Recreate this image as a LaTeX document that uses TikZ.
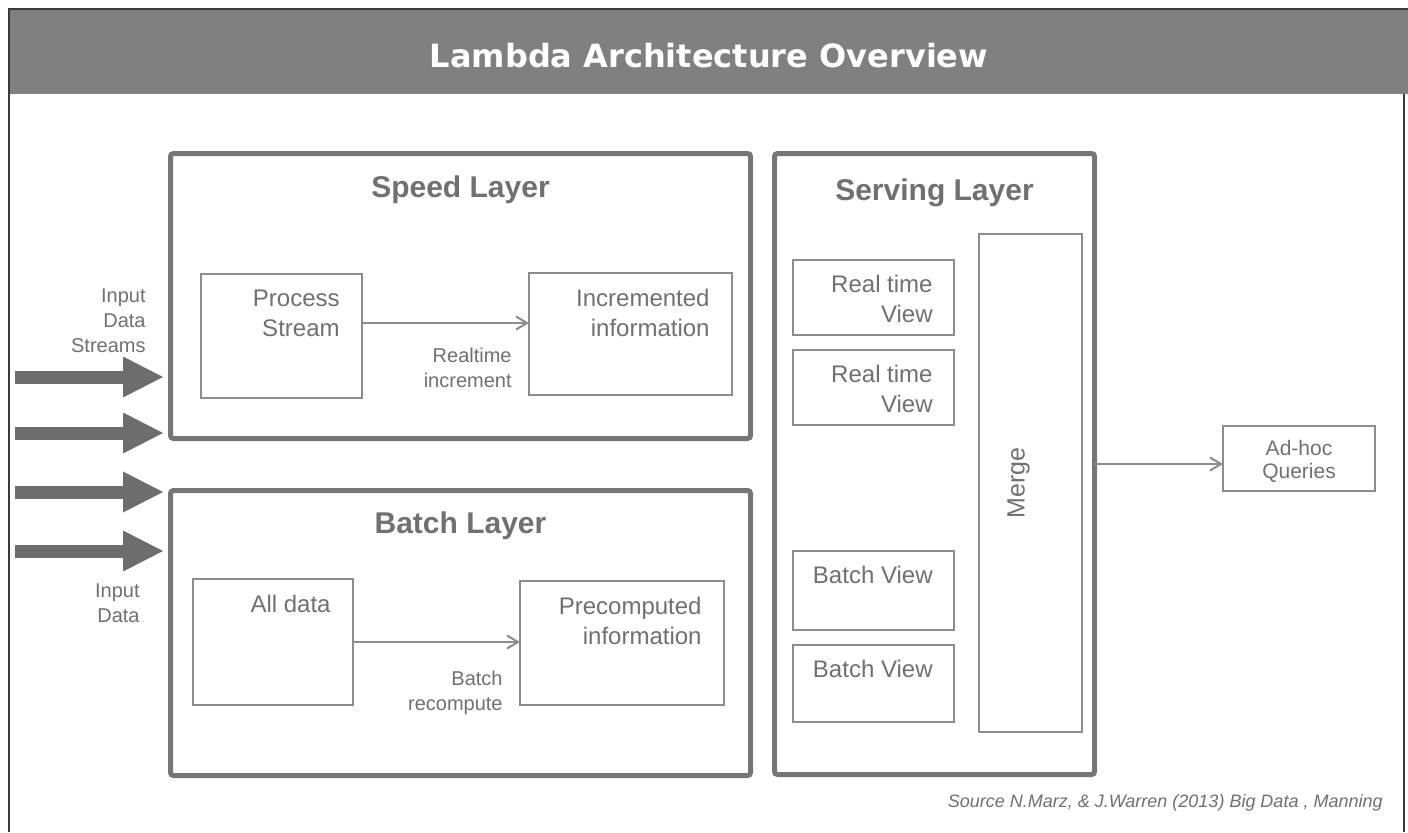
\documentclass[tikz,border=0pt]{standalone}
\usepackage{fontspec}
\setmainfont{Liberation Sans}
\newfontfamily\titlefont{DejaVu Sans}
\usepackage{xcolor}
\usetikzlibrary{calc}
\usetikzlibrary{arrows.meta}
\usetikzlibrary{positioning}

\definecolor{bargray}{HTML}{808080}
\definecolor{layergray}{HTML}{767676}
\definecolor{boxgray}{HTML}{8C8C8C}
\definecolor{txtgray}{HTML}{707070}
\definecolor{feedgray}{HTML}{6D6D6D}
\definecolor{framegray}{HTML}{3A3A3A}

\tikzset{
	layer/.style={draw=layergray, line width=2.5pt, rounded corners=1.5pt, inner sep=0pt, outer sep=0pt, anchor=north west},
	item/.style={draw=boxgray, line width=1pt, inner sep=0pt, outer sep=0pt, anchor=north west},
	itemtext/.style={anchor=north east, align=right, inner sep=0pt, text=txtgray, font=\fontsize{12}{15}\selectfont},
	note/.style={align=right, inner sep=0pt, text=txtgray, font=\fontsize{10}{12.5}\selectfont},
	layertitle/.style={anchor=base, inner sep=0pt, text=txtgray, font=\bfseries\fontsize{15}{18}\selectfont},
	flow/.style={draw=boxgray, line width=1pt, -{Straight Barb[length=5.5pt,width=6.5pt]}},
	feed/.style={draw=feedgray, line width=6.5pt, -{Triangle[length=20pt,width=20.5pt,line width=0pt]}}
}

\begin{document}
\begin{tikzpicture}[x=0.5pt,y=-0.5pt] % one unit is one pixel, y runs down
	\useasboundingbox (0,0) rectangle (1408,832);
	\fill[white] (0,0) rectangle (1408,832);	% background
	
	% slide frame and title bar
	\fill[bargray] (10,10) rectangle (1408,94);
	\draw[framegray, line width=1pt] (9,832) -- (9,9) -- (1408,9);
	\draw[framegray, line width=1pt] (1404,94) -- (1404,832);
	\node[anchor=base, inner sep=0pt, text=white, font=\titlefont\bfseries\fontsize{16}{19}\selectfont] (ttl) at (709,67) {Lambda Architecture Overview};
	
	% layers
	\node[layer, minimum width=290pt, minimum height=142.5pt] (spd) at (170.5,153.5) {};
	\node[layer, minimum width=290pt, minimum height=142.5pt] (bat) at (170.5,490.5) {};
	\node[layer, minimum width=160pt, minimum height=310.5pt] (srv) at (774.5,153.5) {};
	\node[layertitle] (spdtitle) at ([yshift=-21.75pt]spd.north) {Speed Layer};
	\node[layertitle] (battitle) at ([yshift=-21.25pt]bat.north) {Batch Layer};
	\node[layertitle] (srvtitle) at ([yshift=-23.25pt]srv.north) {Serving Layer};
	
	% speed layer
	\node[item, minimum width=80.5pt, minimum height=62pt] (ps) at (201,274) {};
	\node[item, minimum width=101.5pt, minimum height=61pt] (inc) at (529,273) {};
	\node[itemtext] (pstext) at ([shift={(-22,16)}]ps.north east) {Process\\Stream};
	\node[itemtext] (inctext) at ([shift={(-22,16)}]inc.north east) {Incremented\\information};
	\draw[flow] ([yshift=6.5pt]ps.east) -- ([yshift=6.5pt]ps.east -| inc.west);
	\node[note, below left=7pt and 8.5pt of inc.west] (inclbl) {Realtime\\increment};
	
	% batch layer
	\node[item, minimum width=80pt, minimum height=63pt] (ad) at (193,579) {};
	\node[item, minimum width=102pt, minimum height=62pt] (pre) at (520,581) {};
	\node[itemtext] (adtext) at ([shift={(-22,16)}]ad.north east) {All data};
	\node[itemtext] (pretext) at ([shift={(-22,16)}]pre.north east) {Precomputed\\information};
	\draw[flow] (ad.east) -- (ad.east -| pre.west);
	\node[note, below left=14pt and 8.5pt of pre.west] (prelbl) {Batch\\recompute};
	
	% serving layer
	\node[item, minimum width=80.5pt, minimum height=37.5pt] (rt1) at (793,260) {};
	\node[item, minimum width=80.5pt, minimum height=37.5pt] (rt2) at (793,350) {};
	\node[item, minimum width=80.5pt, minimum height=39.5pt] (bv1) at (793,551) {};
	\node[item, minimum width=80.5pt, minimum height=38.5pt] (bv2) at (793,645) {};
	\node[itemtext] (rt1text) at ([shift={(-21,15)}]rt1.north east) {Real time\\View};
	\node[itemtext] (rt2text) at ([shift={(-21,15)}]rt2.north east) {Real time\\View};
	\node[itemtext] (bv1text) at ([shift={(-21,15)}]bv1.north east) {Batch View};
	\node[itemtext] (bv2text) at ([shift={(-21,15)}]bv2.north east) {Batch View};
	\node[item, minimum width=51.5pt, minimum height=249pt] (mg) at (979,234) {};
	\node[inner sep=0pt, text=txtgray, font=\fontsize{12.5}{15}\selectfont, rotate=90] (mgtext) at ([xshift=-6pt]mg.center) {Merge};
	
	% queries
	\node[item, minimum width=76pt, minimum height=32.5pt] (ah) at (1223,426) {};
	\node[inner sep=0pt, align=center, text=txtgray, font=\fontsize{10.5}{11.5}\selectfont] (ahtext) at ([yshift=-1.5pt]ah.center) {Ad-hoc\\Queries};
	\draw[flow] (srv.east) -- (srv.east -| ah.west);
	
	% input arrows
	\foreach \i/\y in {1/377, 2/433, 3/492, 4/551} {
		\coordinate (src\i) at (15,\y);
		\draw[feed] (src\i) -- ([xshift=-3.75pt]src\i -| spd.west);
	}
	\node[note, anchor=north east] (instream) at (146,288) {Input\\Data\\Streams};
	\node[note, anchor=north east] (inbatch) at (140,583) {Input\\Data};
	
	% source
	\node[anchor=base east, inner sep=0pt, text=txtgray, font=\itshape\fontsize{9}{11}\selectfont] (src) at (1383,807) {Source N.Marz, \& J.Warren (2013) Big Data , Manning};
\end{tikzpicture}
\end{document}
